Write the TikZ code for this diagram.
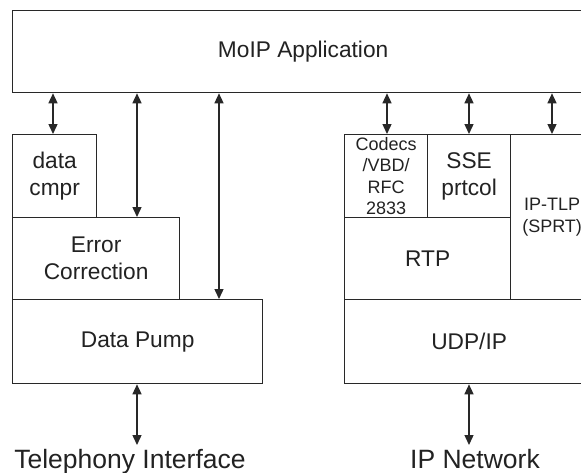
\documentclass[tikz,border=0pt]{standalone}
\usepackage{fontspec}
\setmainfont{Liberation Sans}
\usetikzlibrary{arrows.meta}
\definecolor{linecol}{RGB}{40,40,40}
\definecolor{txtcol}{RGB}{34,34,34}
\begin{document}
\begin{tikzpicture}[x=1pt,y=-1pt,
  box/.style={draw=linecol, line width=1.3pt, inner sep=0pt, anchor=north west, align=center,
              font=\fontsize{22.7}{27}\selectfont, text=txtcol},
  smalltxt/.style={font=\fontsize{18}{21.5}\selectfont},
  dbl/.style={line width=1.4pt, draw=linecol,
              {Triangle[length=10pt,width=9pt]}-{Triangle[length=10pt,width=9pt]}},
  lbl/.style={font=\fontsize{26.5}{30}\selectfont, text=txtcol, inner sep=0pt, anchor=base}]
\useasboundingbox (0,0) rectangle (581,472);
\clip (0,0) rectangle (581,472);
\fill[white] (0,0) rectangle (581,472);
% boxes
\node[box, minimum width=581pt, minimum height=82pt] (moip) at (12,10) {MoIP Application};
\node[box, minimum width=84pt, minimum height=83pt] (dc) at (12,134) {data\\cmpr};
\node[box, minimum width=167pt, minimum height=82pt] (ec) at (12,217) {Error\\Correction};
\node[box, minimum width=250pt, minimum height=84pt] (dp) at (12,299) {Data Pump};
\node[box, smalltxt, minimum width=83pt, minimum height=83pt] (codecs) at (344,134) {Codecs\\/VBD/\\RFC\\2833};
\node[box, minimum width=83pt, minimum height=83pt] (sse) at (427,134) {SSE\\prtcol};
\node[box, smalltxt, minimum width=83pt, minimum height=165pt] (tlp) at (510,134) {IP-TLP\\(SPRT)};
\node[box, minimum width=166pt, minimum height=82pt] (rtp) at (344,217) {RTP};
\node[box, minimum width=249pt, minimum height=84pt] (udp) at (344,299) {UDP/IP};
% labels
\node[lbl] (tel) at (130,468) {Telephony Interface};
\node[lbl] (ipn) at (475,468) {IP Network};
% arrow columns
\coordinate (xdc) at (53,0);
\coordinate (xec) at (137,0);
\coordinate (xdp) at (219,0);
\coordinate (xcod) at (387,0);
\coordinate (xsse) at (469,0);
\coordinate (xtlp) at (552,0);
\coordinate (telend) at (137,445);
\coordinate (ipend) at (469,445);
% connectors
\draw[dbl] (moip.south -| xdc) -- (dc.north -| xdc);
\draw[dbl] (moip.south -| xec) -- (ec.north -| xec);
\draw[dbl] (moip.south -| xdp) -- (dp.north -| xdp);
\draw[dbl] (moip.south -| xcod) -- (codecs.north -| xcod);
\draw[dbl] (moip.south -| xsse) -- (sse.north -| xsse);
\draw[dbl] (moip.south -| xtlp) -- (tlp.north -| xtlp);
\draw[dbl] (dp.south -| telend) -- (telend);
\draw[dbl] (udp.south -| ipend) -- (ipend);
\end{tikzpicture}
\end{document}
